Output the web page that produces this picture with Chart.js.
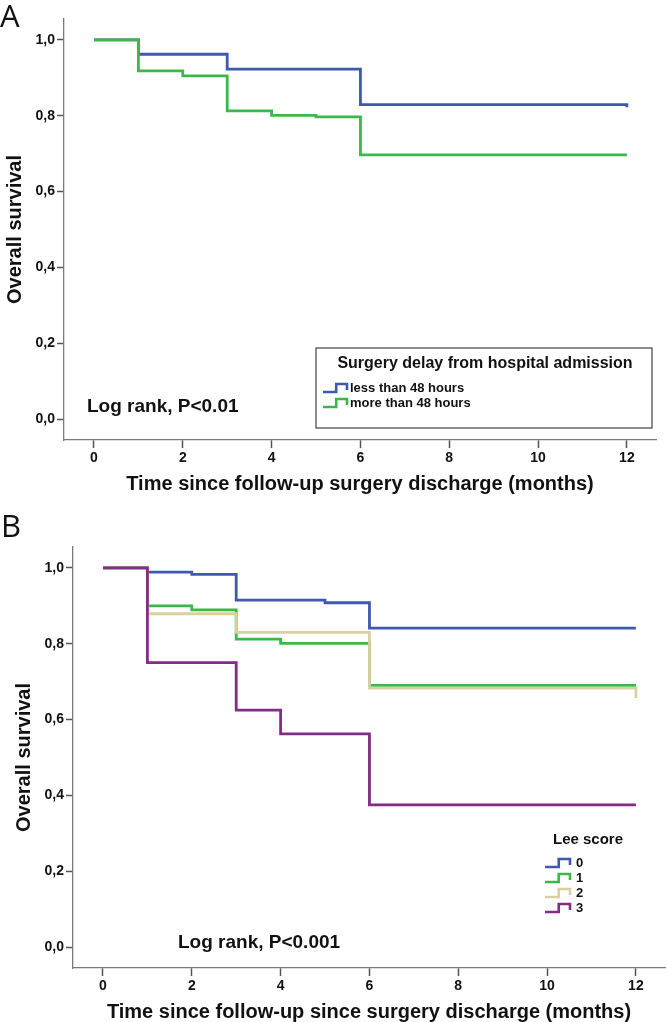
<!DOCTYPE html>
<html>
<head>
<meta charset="utf-8">
<script src="https://cdn.jsdelivr.net/npm/chart.js@4.4.0/dist/chart.umd.min.js"></script>
<style>
  body { margin: 0; background: #fff; width: 666px; height: 1022px; position: relative; overflow: hidden; }
  .panel { position: absolute; left: 0; width: 666px; }
  .tag { position: absolute; font-family: "Open Sans", "Noto Sans", sans-serif; font-size: 31px; color: #111; line-height: 1; }
</style>
</head>
<body>
<div class="panel" style="top:0;height:500px"><canvas id="chartA"></canvas></div>
<div class="panel" style="top:500px;height:522px"><canvas id="chartB"></canvas></div>
<div class="tag" style="left:0;top:0">A</div>
<div class="tag" style="left:1px;top:510px">B</div>
<script>
// axis ticks
var xTicks = [0, 2, 4, 6, 8, 10, 12];
var yTicks = [0, 0.2, 0.4, 0.6, 0.8, 1.0];

// panel A - surgery delay
var lessTime = [0, 1, 3, 6, 12, 12];
var lessSurv = [1, 0.962, 0.923, 0.829, 0.829, 0.822];
var moreTime = [0, 1, 2, 3, 4, 5, 6, 12];
var moreSurv = [1, 0.918, 0.905, 0.813, 0.801, 0.797, 0.697, 0.697];

// panel B - Lee score
var lee0Time = [0, 1, 2, 3, 5, 6, 12];
var lee0Surv = [1, 0.989, 0.983, 0.915, 0.908, 0.841, 0.841];
var lee1Time = [0, 1, 2, 3, 4, 6, 12];
var lee1Surv = [1, 0.900, 0.889, 0.812, 0.801, 0.690, 0.690];
var lee2Time = [0, 1, 3, 6, 12, 12];
var lee2Surv = [1, 0.879, 0.830, 0.683, 0.683, 0.657];
var lee3Time = [0, 1, 3, 4, 6, 12];
var lee3Surv = [1, 0.75, 0.625, 0.5625, 0.375, 0.375];

var BLUE = '#3f59ad', GREEN = '#3cb84a', TAN = '#d8d09e', PURPLE = '#822c86';
var FONT = '"Liberation Sans", Arial, sans-serif';

function steps(times, surv) {
    return times.map(function (t, i) { return {x: t, y: surv[i]}; });
}

function kmLine(label, times, surv, color, order) {
    return {
        label: label,
        data: steps(times, surv),
        borderColor: color,
        backgroundColor: color,
        borderWidth: 2.8,
        stepped: 'before',
        pointRadius: 0,
        fill: false,
        order: order
    };
}

function axes(xTitle, yWidth, xHeight, xTitlePad, yTitlePad) {
    return {
        x: {
            type: 'linear', min: -0.675, max: 12.655,
            afterBuildTicks: function (s) { s.ticks = xTicks.map(function (v) { return {value: v}; }); },
            afterFit: function (s) { s.height = xHeight; },
            grid: {drawOnChartArea: false, drawTicks: true, tickLength: 8, tickColor: '#555', tickWidth: 1.5},
            border: {display: true, color: '#7a7a7a', width: 1.3},
            ticks: {font: {family: FONT, size: 14, weight: 'bold'}, color: '#111', padding: 2, maxRotation: 0},
            title: {display: true, text: xTitle, color: '#111',
                font: {family: FONT, size: 20, weight: 'bold', lineHeight: 1},
                padding: {top: 0, bottom: xTitlePad}}
        },
        y: {
            type: 'linear', min: -0.055, max: 1.055,
            afterBuildTicks: function (s) { s.ticks = yTicks.map(function (v) { return {value: v}; }); },
            afterFit: function (s) { s.width = yWidth; },
            grid: {drawOnChartArea: false, drawTicks: true, tickLength: 7, tickColor: '#555', tickWidth: 1.5},
            border: {display: true, color: '#7a7a7a', width: 1.3},
            ticks: {font: {family: FONT, size: 14, weight: 'bold'}, color: '#111', padding: 2,
                callback: function (v) { return v.toFixed(1).replace('.', ','); }},
            title: {display: true, text: 'Overall survival', color: '#111',
                font: {family: FONT, size: 20, weight: 'bold', lineHeight: 1},
                padding: {top: yTitlePad, bottom: 0}}
        }
    };
}

// log rank note and step-icon legend
var kmNotes = {
    id: 'kmNotes',
    afterDraw: function (chart, args, o) {
        var ctx = chart.ctx;
        ctx.save();
        ctx.fillStyle = '#111';
        ctx.textBaseline = 'middle';
        ctx.font = 'bold 19px ' + FONT;
        ctx.fillText(o.logRank, o.logX, o.logY);
        if (o.box) {
            ctx.strokeStyle = '#444';
            ctx.lineWidth = 1.2;
            ctx.strokeRect(o.box[0], o.box[1], o.box[2], o.box[3]);
        }
        ctx.textAlign = 'center';
        ctx.font = 'bold ' + o.titleSize + 'px ' + FONT;
        ctx.fillText(o.title, o.titleX, o.titleY);
        ctx.textAlign = 'left';
        ctx.font = 'bold 13px ' + FONT;
        o.items.forEach(function (it, i) {
            var y = o.itemY[i], x = o.iconX, w = o.iconW;
            ctx.strokeStyle = it.color;
            ctx.lineWidth = 2.6;
            ctx.beginPath();
            ctx.moveTo(x, y + 4);
            ctx.lineTo(x + w * 0.55, y + 4);
            ctx.lineTo(x + w * 0.55, y - 4);
            ctx.lineTo(x + w, y - 4);
            ctx.lineTo(x + w, y + 2);
            ctx.stroke();
            ctx.fillStyle = '#111';
            ctx.fillText(it.label, o.textX, y);
        });
        ctx.restore();
    }
};

new Chart(document.getElementById('chartA').getContext('2d'), {
    type: 'line',
    data: {
        datasets: [
            kmLine('more than 48 hours', moreTime, moreSurv, GREEN, 0),
            kmLine('less than 48 hours', lessTime, lessSurv, BLUE, 1)
        ]
    },
    options: {
        responsive: true, maintainAspectRatio: false, animation: false,
        layout: {padding: {top: 19, right: 10, left: 0, bottom: 0}},
        scales: axes('Time since follow-up surgery discharge (months)', 64, 60, 6, 5),
        plugins: {
            legend: {display: false}, tooltip: {enabled: false},
            kmNotes: {
                logRank: 'Log rank, P<0.01', logX: 87, logY: 407,
                box: [316, 348, 336, 80],
                title: 'Surgery delay from hospital admission', titleSize: 16, titleX: 485, titleY: 364,
                iconX: 323, iconW: 24, textX: 350, itemY: [388, 403],
                items: [{label: 'less than 48 hours', color: BLUE}, {label: 'more than 48 hours', color: GREEN}]
            }
        }
    },
    plugins: [kmNotes]
});

new Chart(document.getElementById('chartB').getContext('2d'), {
    type: 'line',
    data: {
        datasets: [
            kmLine('3', lee3Time, lee3Surv, PURPLE, 0),
            kmLine('2', lee2Time, lee2Surv, TAN, 1),
            kmLine('1', lee1Time, lee1Surv, GREEN, 2),
            kmLine('0', lee0Time, lee0Surv, BLUE, 3)
        ]
    },
    options: {
        responsive: true, maintainAspectRatio: false, animation: false,
        layout: {padding: {top: 47, right: 1, left: 0, bottom: 0}},
        scales: axes('Time since follow-up since surgery discharge (months)', 73, 54, 0, 14),
        plugins: {
            legend: {display: false}, tooltip: {enabled: false},
            kmNotes: {
                logRank: 'Log rank, P<0.001', logX: 178, logY: 443,
                box: null,
                title: 'Lee score', titleSize: 15, titleX: 588, titleY: 340,
                iconX: 545, iconW: 25, textX: 576, itemY: [363, 378, 393, 408],
                items: [{label: '0', color: BLUE}, {label: '1', color: GREEN},
                        {label: '2', color: TAN}, {label: '3', color: PURPLE}]
            }
        }
    },
    plugins: [kmNotes]
});
</script>
</body>
</html>
